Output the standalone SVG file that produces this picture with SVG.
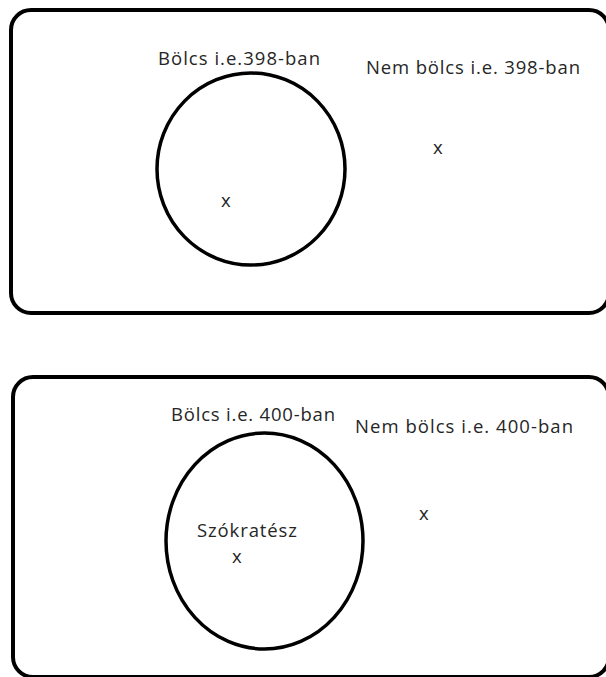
<svg xmlns="http://www.w3.org/2000/svg" width="606" height="677" viewBox="0 0 606 677">
<style>
.box{fill:none;stroke:#000;stroke-width:4}
.set{fill:none;stroke:#000;stroke-width:3.5}
text{font-family:"Open Sans","Liberation Sans",sans-serif;font-size:18.5px;fill:#262626}
</style>
<rect x="0" y="0" width="606" height="677" fill="#fff"/>
<g id="panel-398">
  <rect class="box" x="11" y="10" width="598" height="303" rx="20" ry="20"/>
  <g id="set-bolcs-398">
    <ellipse class="set" cx="251" cy="169" rx="94" ry="96"/>
    <text x="158" y="65" textLength="162">Bölcs i.e.398-ban</text>
    <text x="221" y="207">x</text>
  </g>
  <g id="set-nembolcs-398">
    <text x="366" y="74" textLength="214">Nem bölcs i.e. 398-ban</text>
    <text x="433" y="154">x</text>
  </g>
</g>
<g id="panel-400">
  <rect class="box" x="13" y="377" width="596" height="300" rx="20" ry="20"/>
  <g id="set-bolcs-400">
    <ellipse class="set" cx="264.5" cy="541" rx="98.5" ry="108"/>
    <text x="171" y="421" textLength="164">Bölcs i.e. 400-ban</text>
    <text x="197" y="537" textLength="100">Szókratész</text>
    <text x="232" y="563">x</text>
  </g>
  <g id="set-nembolcs-400">
    <text x="355" y="433" textLength="218">Nem bölcs i.e. 400-ban</text>
    <text x="419" y="520">x</text>
  </g>
</g>
<g id="connectors"></g>
</svg>
